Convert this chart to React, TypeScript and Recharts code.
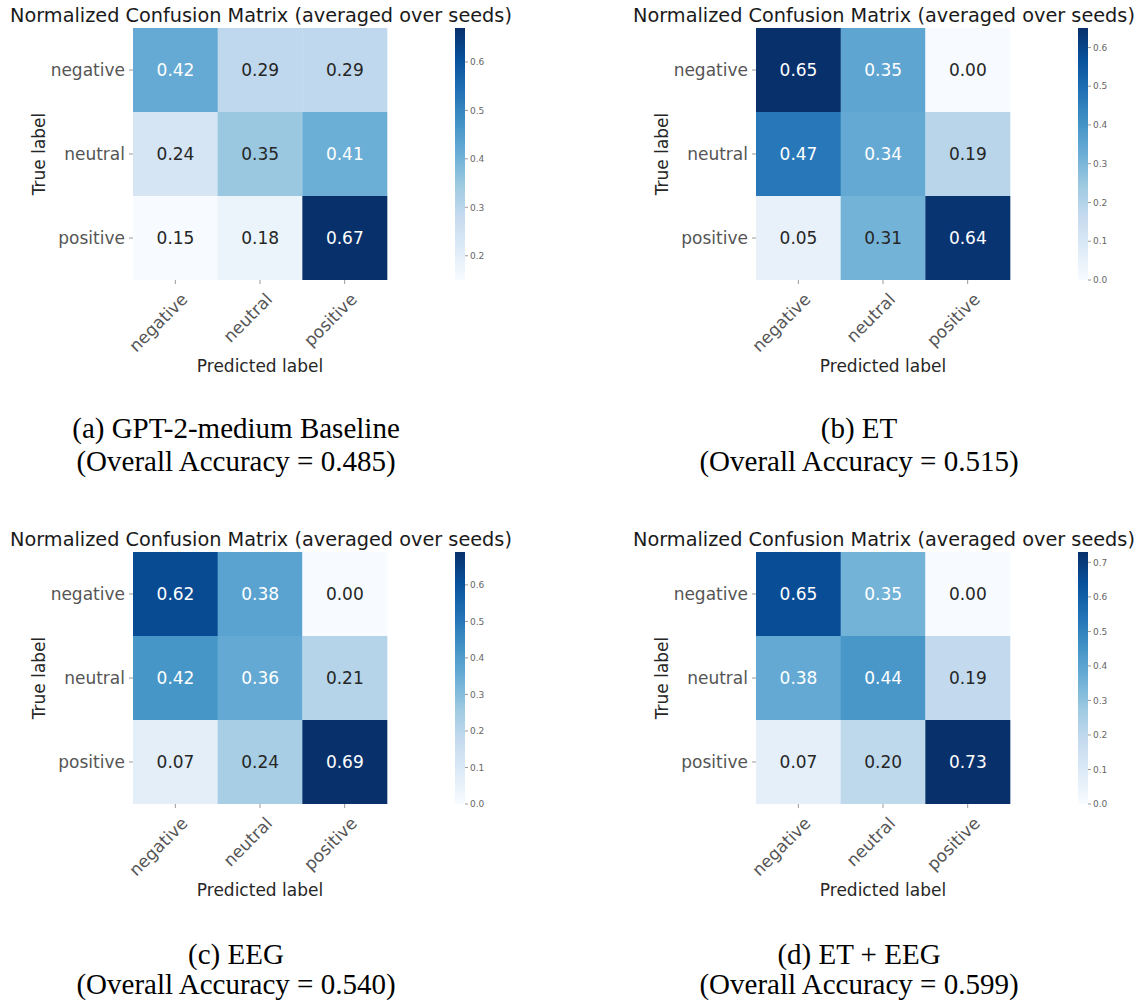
import React from 'react';
import { BarChart, Bar, XAxis, YAxis, Cell, LabelList, Label } from 'recharts';

const classLabels = ['negative', 'neutral', 'positive'];
const titleText = 'Normalized Confusion Matrix (averaged over seeds)';
const xAxisTitle = 'Predicted label';
const yAxisTitle = 'True label';

// rows = true label, columns = predicted label
const matrixA = [
  [0.42, 0.29, 0.29],
  [0.24, 0.35, 0.41],
  [0.15, 0.18, 0.67],
];
const matrixB = [
  [0.65, 0.35, 0.0],
  [0.47, 0.34, 0.19],
  [0.05, 0.31, 0.64],
];
const matrixC = [
  [0.62, 0.38, 0.0],
  [0.42, 0.36, 0.21],
  [0.07, 0.24, 0.69],
];
const matrixD = [
  [0.65, 0.35, 0.0],
  [0.38, 0.44, 0.19],
  [0.07, 0.2, 0.73],
];

const cbarTicksA = [0.2, 0.3, 0.4, 0.5, 0.6];
const cbarTicksB = [0.0, 0.1, 0.2, 0.3, 0.4, 0.5, 0.6];
const cbarTicksC = [0.0, 0.1, 0.2, 0.3, 0.4, 0.5, 0.6];
const cbarTicksD = [0.0, 0.1, 0.2, 0.3, 0.4, 0.5, 0.6, 0.7];

const captionA = ['(a) GPT-2-medium Baseline', '(Overall Accuracy = 0.485)'];
const captionB = ['(b) ET', '(Overall Accuracy = 0.515)'];
const captionC = ['(c) EEG', '(Overall Accuracy = 0.540)'];
const captionD = ['(d) ET + EEG', '(Overall Accuracy = 0.599)'];

const bluesStops = ['#f7fbff', '#deebf7', '#c6dbef', '#9ecae1', '#6baed6', '#4292c6', '#2171b5', '#08519c', '#08306b'];

const SANS = 'DejaVu Sans, Verdana, sans-serif';
const SERIF = 'Liberation Serif, Times New Roman, serif';

function hexToRgb(h: string): number[] {
  return [parseInt(h.slice(1, 3), 16), parseInt(h.slice(3, 5), 16), parseInt(h.slice(5, 7), 16)];
}

function bluesRgb(t: number): number[] {
  const c = Math.max(0, Math.min(1, t)) * (bluesStops.length - 1);
  const i = Math.min(bluesStops.length - 2, Math.floor(c));
  const f = c - i;
  const a = hexToRgb(bluesStops[i]);
  const b = hexToRgb(bluesStops[i + 1]);
  return [0, 1, 2].map((k) => a[k] + (b[k] - a[k]) * f);
}

function rgbStr(c: number[]): string {
  return `rgb(${Math.round(c[0])},${Math.round(c[1])},${Math.round(c[2])})`;
}

function luminance(c: number[]): number {
  const lin = c.map((v) => {
    const s = v / 255;
    return s <= 0.03928 ? s / 12.92 : Math.pow((s + 0.055) / 1.055, 2.4);
  });
  return 0.2126 * lin[0] + 0.7152 * lin[1] + 0.0722 * lin[2];
}

type PanelProps = {
  id: string;
  matrix: number[][];
  cbarTicks: number[];
  caption: string[];
  left: number;
  top: number;
  captionY: number;
  captionGap: number;
};

const XTick = (props: any) => {
  const { x, y, payload } = props;
  return (
    <g transform={`translate(${x + 5},${y + 6})`}>
      <text
        x={0}
        y={0}
        dy="0.7em"
        textAnchor="end"
        transform="rotate(-45)"
        fontSize={17}
        fill="#555"
        fontFamily={SANS}
      >
        {payload.value}
      </text>
    </g>
  );
};

function Panel({ id, matrix, cbarTicks, caption, left, top, captionY, captionGap }: PanelProps) {
  const flat = matrix.flat();
  const vmin = Math.min(...flat);
  const vmax = Math.max(...flat);
  const norm = (v: number) => (v - vmin) / (vmax - vmin);

  const data = classLabels.map((pred, j) => {
    const row: any = { pred };
    classLabels.forEach((t, i) => {
      row[`cnt_${t}`] = 1;
      row[`val_${t}`] = matrix[i][j];
    });
    return row;
  });

  // stack from bottom: last true label first
  const stackOrder = [2, 1, 0];

  const renderCellLabel = (p: any) => {
    const { x, y, width, height, value } = p;
    const col = bluesRgb(norm(value));
    const fill = luminance(col) > 0.408 ? '#262626' : '#ffffff';
    return (
      <text
        x={x + width / 2}
        y={y + height / 2}
        dy="0.36em"
        textAnchor="middle"
        fontSize={17}
        fontFamily={SANS}
        fill={fill}
      >
        {Number(value).toFixed(2)}
      </text>
    );
  };

  const cbarData = [{ name: 'cbar', range: [vmin, vmax] }];
  const gradId = `grad_${id}`;

  return (
    <div style={{ position: 'absolute', left, top, width: 620, height: 520 }}>
      <div style={{ position: 'absolute', left: 0, top: 0 }}>
        <BarChart
          width={400}
          height={390}
          data={data}
          margin={{ top: 28, right: 13, bottom: 0, left: 0 }}
          barCategoryGap={0}
          barGap={0}
        >
          <XAxis
            dataKey="pred"
            type="category"
            height={110}
            axisLine={false}
            tickLine={{ stroke: '#999' }}
            tickSize={4}
            tick={<XTick />}
            interval={0}
          >
            <Label
              content={() => (
                <text x={260} y={372} textAnchor="middle" fontSize={17} fontFamily={SANS} fill="#262626">
                  {xAxisTitle}
                </text>
              )}
            />
          </XAxis>
          <YAxis
            type="number"
            domain={[0, 3]}
            ticks={[0.5, 1.5, 2.5]}
            tickFormatter={(v: number) => classLabels[2 - Math.floor(v)]}
            width={133}
            axisLine={false}
            tickLine={{ stroke: '#999' }}
            tickSize={4}
            tickMargin={4}
            tick={{ fontSize: 17, fill: '#555', fontFamily: SANS }}
            interval={0}
          >
            <Label
              content={() => (
                <text
                  x={45}
                  y={154}
                  transform="rotate(-90 45 154)"
                  textAnchor="middle"
                  fontSize={17}
                  fontFamily={SANS}
                  fill="#262626"
                >
                  {yAxisTitle}
                </text>
              )}
            />
          </YAxis>
          {stackOrder.map((i) => {
            const t = classLabels[i];
            return (
              <Bar key={t} dataKey={`cnt_${t}`} stackId="m" isAnimationActive={false}>
                {classLabels.map((_, j) => (
                  <Cell key={j} fill={rgbStr(bluesRgb(norm(matrix[i][j])))} />
                ))}
                <LabelList dataKey={`val_${t}`} content={renderCellLabel} />
              </Bar>
            );
          })}
        </BarChart>
      </div>
      <div style={{ position: 'absolute', left: 455, top: 0 }}>
        <BarChart
          width={50}
          height={290}
          data={cbarData}
          margin={{ top: 28, right: 0, bottom: 10, left: 0 }}
          barCategoryGap={0}
        >
          <defs>
            <linearGradient id={gradId} x1="0" y1="1" x2="0" y2="0">
              {bluesStops.map((c, k) => (
                <stop key={k} offset={`${(k / (bluesStops.length - 1)) * 100}%`} stopColor={c} />
              ))}
            </linearGradient>
          </defs>
          <XAxis dataKey="name" hide />
          <YAxis
            type="number"
            orientation="right"
            domain={[vmin, vmax]}
            ticks={cbarTicks}
            tickFormatter={(v: number) => v.toFixed(1)}
            width={40}
            axisLine={false}
            tickLine={{ stroke: '#999' }}
            tickSize={3}
            tickMargin={2}
            tick={{ fontSize: 9, fill: '#666', fontFamily: SANS }}
            interval={0}
            allowDataOverflow
          />
          <Bar dataKey="range" fill={`url(#${gradId})`} isAnimationActive={false} />
        </BarChart>
      </div>
      <svg
        width={620}
        height={480}
        style={{ position: 'absolute', left: 0, top: 0, pointerEvents: 'none' }}
      >
        <text x={261} y={22} textAnchor="middle" fontSize={19.3} fontFamily={SANS} fill="#1a1a1a">
          {titleText}
        </text>
        <text x={236} y={captionY} textAnchor="middle" fontSize={29} fontFamily={SERIF} fill="#000">
          {caption[0]}
        </text>
        <text x={236} y={captionY + captionGap} textAnchor="middle" fontSize={29} fontFamily={SERIF} fill="#000">
          {caption[1]}
        </text>
      </svg>
    </div>
  );
}

export default function App() {
  return (
    <div style={{ position: 'absolute', left: 0, top: 0, width: 1140, height: 1002, background: '#fff', overflow: 'hidden' }}>
      <Panel id="a" matrix={matrixA} cbarTicks={cbarTicksA} caption={captionA} left={0} top={0} captionY={438} captionGap={33} />
      <Panel id="b" matrix={matrixB} cbarTicks={cbarTicksB} caption={captionB} left={623} top={0} captionY={438} captionGap={33} />
      <Panel id="c" matrix={matrixC} cbarTicks={cbarTicksC} caption={captionC} left={0} top={524} captionY={440} captionGap={30} />
      <Panel id="d" matrix={matrixD} cbarTicks={cbarTicksD} caption={captionD} left={623} top={524} captionY={440} captionGap={30} />
    </div>
  );
}
